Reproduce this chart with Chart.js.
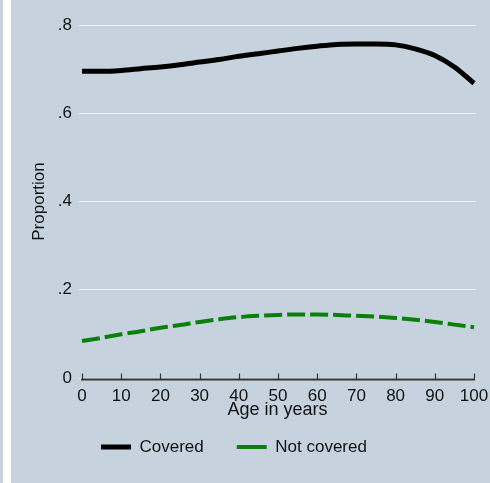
<!DOCTYPE html>
<html>
<head>
<meta charset="utf-8">
<script src="https://cdn.jsdelivr.net/npm/chart.js@4.4.1/dist/chart.umd.min.js"></script>
<style>
html,body{margin:0;padding:0;background:#c6d3df;width:490px;height:483px;overflow:hidden}
#strip{position:absolute;left:3px;top:0;width:8px;height:483px;background:#fff}
#wrap{position:absolute;left:11px;top:0;width:479px;height:483px}
</style>
</head>
<body>
<div id="strip"></div>
<div id="wrap"><canvas id="chart" width="479" height="483"></canvas></div>
<script>
const ages=[0,5,10,15,20,25,30,35,40,45,50,55,60,65,70,75,80,85,90,95,100];
const covered=[.695,.695,.697,.701,.705,.710,.716,.722,.729,.735,.741,.747,.752,.756,.757,.757,.755,.746,.731,.705,.668];
const notCovered=[.084,.091,.099,.106,.114,.120,.127,.133,.138,.141,.143,.144,.144,.143,.141,.139,.136,.132,.127,.121,.115];
const xTicks=[0,10,20,30,40,50,60,70,80,90,100];
const yTicks=[0,.2,.4,.6,.8];

const ink='#111';
Chart.defaults.font.family='"Liberation Sans", Arial, sans-serif';

// stata style axis: dark line with ticks pointing up
const axisPlugin={
  id:'axisTicks',
  afterLayout(chart){
    chart.legend.left=57;
    chart.legend.top=405.5;
  },
  afterDraw(chart){
    const ctx=chart.ctx, xs=chart.scales.x, b=chart.chartArea.bottom;
    ctx.save();
    ctx.strokeStyle='#333';
    ctx.lineWidth=2;
    ctx.beginPath();
    ctx.moveTo(xs.getPixelForValue(0)-1,b+1.5);
    ctx.lineTo(xs.getPixelForValue(100)+1,b+1.5);
    ctx.stroke();
    ctx.lineWidth=1.2;
    xTicks.forEach(v=>{
      const x=Math.round(xs.getPixelForValue(v))+0.5;
      ctx.beginPath();
      ctx.moveTo(x,b-4.5);
      ctx.lineTo(x,b+2);
      ctx.stroke();
    });
    ctx.restore();
  }
};

new Chart(document.getElementById('chart'),{
  type:'line',
  data:{datasets:[
    {label:'Covered',data:ages.map((a,i)=>({x:a,y:covered[i]})),borderColor:'#000',backgroundColor:'#000',
     borderWidth:5,pointRadius:0,cubicInterpolationMode:'monotone',borderCapStyle:'butt'},
    {label:'Not covered',data:ages.map((a,i)=>({x:a,y:notCovered[i]})),borderColor:'#0a800a',backgroundColor:'#0a800a',
     borderWidth:4,borderDash:[18,5],pointRadius:0,cubicInterpolationMode:'monotone',borderCapStyle:'butt'}
  ]},
  options:{
    responsive:false,animation:false,
    layout:{padding:{top:25,left:0,right:14,bottom:0}},
    plugins:{
      legend:{position:'bottom',align:'start',
        labels:{usePointStyle:true,pointStyle:'line',pointStyleWidth:30,padding:33,color:ink,font:{size:17}}},
      tooltip:{enabled:false}
    },
    scales:{
      x:{type:'linear',min:-0.77,max:100.51,
        afterBuildTicks:s=>{s.ticks=xTicks.map(v=>({value:v}));},
        afterFit:s=>{s.height=45;s.paddingLeft=0;s.paddingRight=0;},
        grid:{display:false},border:{display:false},
        ticks:{padding:0,color:ink,font:{size:17},maxRotation:0,autoSkip:false},
        title:{display:true,text:'Age in years',color:ink,font:{size:18},padding:{top:0,bottom:2}}},
      y:{min:0,max:0.8,
        afterBuildTicks:s=>{s.ticks=yTicks.map(v=>({value:v}));},
        afterFit:s=>{s.width=68;s.paddingTop=0;s.paddingBottom=0;},
        grid:{color:'#eef2f6',lineWidth:1,drawTicks:false},border:{display:false},
        ticks:{padding:7,color:ink,font:{size:17},
          callback:v=>v===0?'0':String(+v.toFixed(1)).replace(/^0/,'')},
        title:{display:true,text:'Proportion',color:ink,font:{size:17},padding:{top:18,bottom:0}}}
    }
  },
  plugins:[axisPlugin]
});
</script>
</body>
</html>
